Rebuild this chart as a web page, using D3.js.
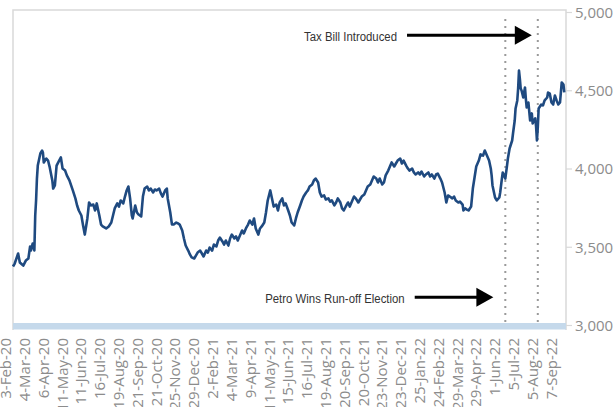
<!DOCTYPE html>
<html><head><meta charset="utf-8">
<script src="https://cdn.jsdelivr.net/npm/d3@7"></script>
<style>body{margin:0;background:#fff}</style>
</head><body>
<svg id="c" width="615" height="407"></svg>
<script>
// trading session index since 3-Feb-20, and USD/COP close
const sessions = [0,2,6,8,12,15,18,20,21,23,25,26,27,28,29,32,34,35,36,39,41,43,46,47,49,51,54,56,58,61,63,66,68,70,73,75,77,80,82,84,87,89,91,94,96,98,101,103,105,109,112,115,117,119,122,124,126,129,131,133,135,137,139,140,143,145,147,150,152,154,157,159,161,164,166,168,171,173,175,178,180,181,184,186,188,191,193,195,198,200,202,205,207,209,212,214,216,219,221,223,226,228,230,233,235,238,240,242,245,247,249,252,254,256,259,261,263,266,268,270,273,275,277,280,282,284,287,289,291,294,296,298,301,303,305,308,310,312,315,317,319,322,324,326,329,331,333,336,338,340,343,345,347,350,352,354,357,359,361,364,366,369,371,373,376,378,380,383,385,387,390,392,394,397,399,401,404,406,408,411,413,415,418,420,422,425,427,429,432,434,436,439,441,443,446,448,450,453,455,457,460,462,464,467,469,471,474,476,478,481,483,486,488,490,493,495,497,500,502,505,507,509,511,514,516,518,521,523,526,527,529,531,533,536,538,540,542,545,547,550,552,554,557,559,560,561,564,566,569,570,572,573,576,578,579,581,584,585,587,588,590,591,592,593,594,595,597,599,600,601,603,605,607,608,611,612,613,614,615,618,620,622,625,626,628,630,632,634,636,638,640,642,644,645];
const fx = [3377,3396,3460,3403,3383,3415,3428,3505,3479,3524,3479,3703,3799,3939,4022,4099,4118,4105,4042,4067,4054,4010,3927,3875,3895,4022,4054,4074,4003,3990,3959,3927,3895,3863,3812,3767,3735,3703,3639,3581,3684,3786,3767,3773,3735,3780,3703,3645,3633,3620,3633,3658,3703,3748,3780,3760,3799,3780,3824,3863,3888,3812,3703,3684,3767,3722,3709,3697,3824,3875,3888,3863,3875,3850,3869,3863,3875,3844,3824,3863,3875,3812,3722,3645,3645,3658,3652,3645,3607,3556,3511,3479,3454,3435,3428,3447,3466,3479,3460,3441,3479,3466,3498,3479,3517,3505,3543,3562,3537,3517,3543,3511,3556,3581,3556,3569,3543,3581,3607,3588,3626,3645,3671,3645,3684,3620,3581,3620,3633,3658,3722,3799,3863,3812,3760,3773,3735,3786,3812,3767,3780,3735,3703,3658,3639,3684,3722,3767,3799,3824,3850,3863,3888,3901,3927,3939,3914,3850,3824,3831,3805,3812,3792,3799,3767,3786,3812,3786,3748,3735,3767,3786,3760,3799,3824,3812,3786,3805,3824,3837,3863,3888,3901,3927,3952,3939,3914,3939,3901,3914,3959,3990,4016,4042,4016,4035,4054,4067,4035,4054,4022,4003,3990,4003,3978,3965,3978,3965,3984,3952,3965,3978,3952,3965,3939,3965,3971,3939,3914,3850,3786,3831,3824,3812,3824,3799,3786,3792,3773,3735,3748,3741,3735,3760,3875,3946,4016,4054,4093,4086,4118,4093,4054,4003,3959,3895,3818,3799,3818,3850,3939,3978,3939,4022,4067,4131,4182,4227,4310,4387,4438,4514,4629,4578,4514,4502,4457,4521,4450,4393,4425,4310,4355,4291,4323,4272,4182,4265,4387,4412,4406,4438,4457,4489,4482,4425,4412,4470,4438,4412,4425,4553,4540,4489];
const tickLabels = ["3-Feb-20","4-Mar-20","6-Apr-20","11-May-20","11-Jun-20","16-Jul-20","19-Aug-20","21-Sep-20","21-Oct-20","25-Nov-20","29-Dec-20","2-Feb-21","4-Mar-21","9-Apr-21","11-May-21","15-Jun-21","16-Jul-21","19-Aug-21","20-Sep-21","20-Oct-21","23-Nov-21","23-Dec-21","25-Jan-22","24-Feb-22","29-Mar-22","29-Apr-22","1-Jun-22","5-Jul-22","5-Aug-22","7-Sep-22"];
const tickEvery = 22;
const yTicks = [3000,3500,4000,4500,5000];
const eventSessions = [576, 614];
const notes = [
  {text:"Tax Bill Introduced", value:4855, from:461, to:607},
  {text:"Petro Wins Run-off Election", value:3180, from:470, to:562}
];

const svg = d3.select("#c");
const L = 13, R = 566, T = 10;
const x = d3.scaleLinear().domain([0, 647]).range([L, R]);
const y = d3.scaleLinear().domain([3000, 5000]).range([325.5, 12.5]);
const grey = "#d9d9d9", txt = "#8c8c8c";

// frame
svg.append("path").attr("d", `M${L},330V${T}H${R}V330`).attr("fill","none").attr("stroke",grey).attr("stroke-width",1.5);
// bottom band
svg.append("rect").attr("x",L).attr("y",y(3000)-2.5).attr("width",R-L).attr("height",6.5).attr("fill","#c5d9eb");

// right y-axis
const ya = svg.append("g");
yTicks.forEach(v => {
  ya.append("line").attr("x1",R).attr("x2",R+6).attr("y1",y(v)).attr("y2",y(v)).attr("stroke",grey).attr("stroke-width",1.2);
  ya.append("text").attr("x",R+9).attr("y",y(v)).attr("dy","0.35em")
    .attr("font-family","Open Sans").attr("font-size",15).attr("fill",txt)
    .text(d3.format(",")(v));
});

// x labels
tickLabels.forEach((t,i) => {
  svg.append("text")
    .attr("transform",`translate(${x(i*tickEvery)-7},338) rotate(-90)`)
    .attr("text-anchor","end").attr("dy","0.35em")
    .attr("font-family","Open Sans").attr("font-size",15).attr("fill",txt)
    .text(t);
});

// event dotted lines
eventSessions.forEach(s => {
  svg.append("line").attr("x1",x(s)).attr("x2",x(s)).attr("y1",19).attr("y2",322)
    .attr("stroke","#9a9a9a").attr("stroke-width",2).attr("stroke-dasharray","2,5");
});

// series line
const data = sessions.map((s,i)=>({s, v:fx[i]}));
svg.append("path").datum(data)
  .attr("d", d3.line().x(d=>x(d.s)).y(d=>y(d.v)))
  .attr("fill","none").attr("stroke","#1f4a80").attr("stroke-width",2.6)
  .attr("stroke-linejoin","round");

// annotations
notes.forEach(n => {
  const yy = y(n.value);
  const x0 = x(n.from), x1 = x(n.to);
  const t = svg.append("text").attr("x",x0-10).attr("y",yy+1).attr("dy","0.35em")
    .attr("text-anchor","end").attr("font-family","Liberation Sans, Arial, sans-serif").attr("font-size",12.5).attr("fill","#333")
    .text(n.text);
  const w = t.node().getComputedTextLength();
  t.attr("textLength", w*0.91).attr("lengthAdjust","spacingAndGlyphs");
  svg.append("line").attr("x1",x0).attr("x2",x1-14).attr("y1",yy).attr("y2",yy)
    .attr("stroke","#000").attr("stroke-width",3);
  svg.append("path").attr("d",`M${x1-17},${yy-9.5}L${x1},${yy}L${x1-17},${yy+9.5}Z`).attr("fill","#000");
});
</script>
</body></html>
